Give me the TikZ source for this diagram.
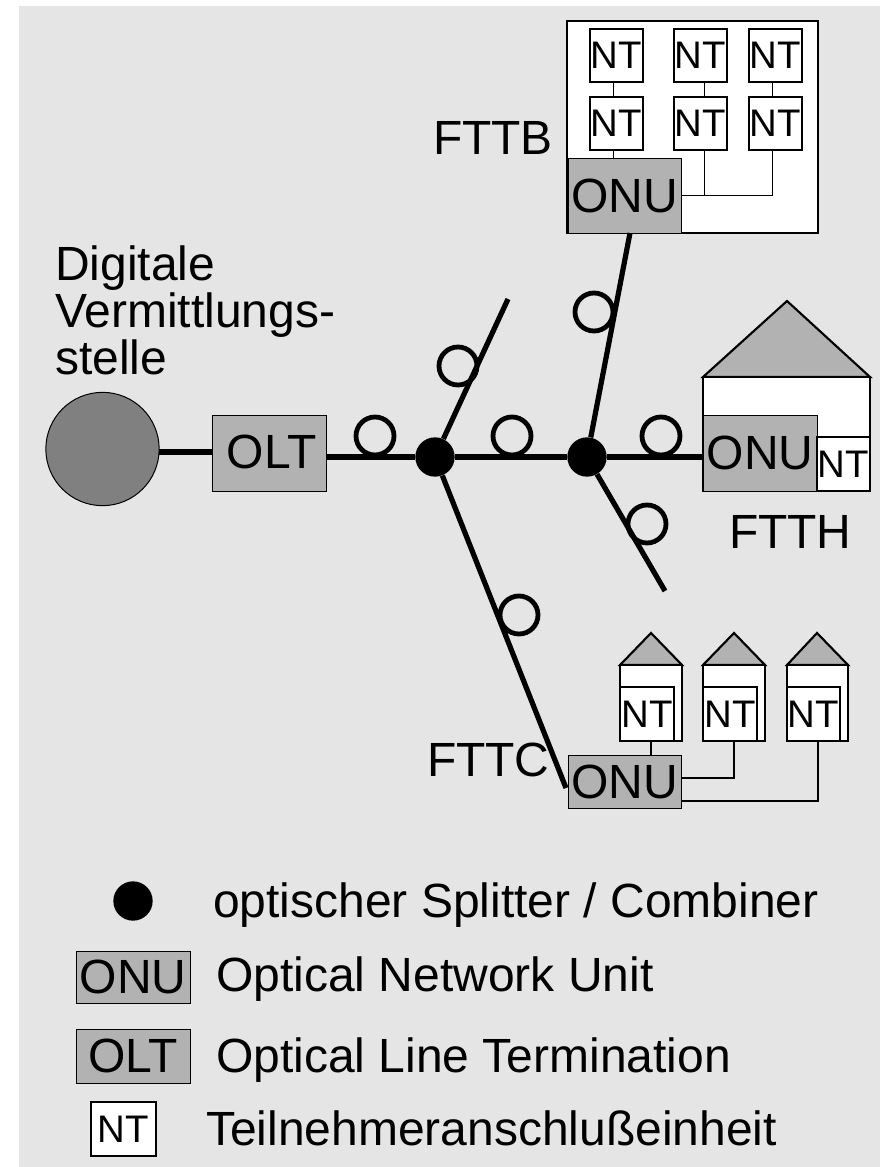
\documentclass[tikz,border=0pt]{standalone}
\usepackage{fontspec}
\setmainfont{Liberation Sans}
\definecolor{bgc}{HTML}{E5E5E5}
\definecolor{roofc}{HTML}{B2B2B2}
\definecolor{vstc}{HTML}{808080}
\newcommand{\bigfont}{\fontsize{36}{35.25}\selectfont}
\newcommand{\ntfont}{\fontsize{28.8}{28.8}\selectfont}
\tikzset{
  x=0.75pt,y=-0.75pt,
  boxbase/.style={rectangle,inner sep=0pt,outer sep=0pt,anchor=center},
  gbox/.style={boxbase,draw=black,line width=0.75pt,fill=roofc,font=\bigfont},
  ntbox/.style={boxbase,draw=black,line width=1.5pt,fill=white,font=\ntfont},
  ntthin/.style={ntbox,line width=1.6pt},
  lab/.style={inner sep=0pt,outer sep=0pt,anchor=base west,font=\bigfont},
  fiber/.style={line width=3.9pt,draw=black},
  loopc/.style={circle,draw=black,line width=3.6pt,inner sep=0pt,minimum size=28.5pt},
  split/.style={circle,fill=black,inner sep=0pt,minimum size=29.5pt},
  thinw/.style={draw=black,line width=0.75pt},
  midw/.style={draw=black,line width=1.7pt},
  wall/.style={draw=black,line width=1.6pt,fill=white},
  roof/.style={draw=black,line width=1.6pt,fill=roofc,line join=miter},
}
\begin{document}
\begin{tikzpicture}
\useasboundingbox (0,0) rectangle (880,1167);
\fill[bgc] (19,6) rectangle (880,1167);

% FTTB building
\node[boxbase,draw=black,line width=1.8pt,fill=white,minimum width=188.25pt,minimum height=159pt] (bldg) at (692.5,127) {};
\node[ntbox,minimum width=39.75pt,minimum height=39.75pt] (n1) at (616.5,55.5) {NT};
\node[ntbox,minimum width=39.75pt,minimum height=39.75pt] (n2) at (700,55.5) {NT};
\node[ntbox,minimum width=39.75pt,minimum height=39.75pt] (n3) at (775.5,55.5) {NT};
\node[ntbox,minimum width=39.75pt,minimum height=39.75pt] (n4) at (616.5,123.5) {NT};
\node[ntbox,minimum width=39.75pt,minimum height=39.75pt] (n5) at (700,123.5) {NT};
\node[ntbox,minimum width=39.75pt,minimum height=39.75pt] (n6) at (775.5,123.5) {NT};
\node[gbox,minimum width=84.75pt,minimum height=56.25pt] (onub) at (624.5,195.5) {ONU};
\coordinate (bt1) at (613,82);
\coordinate (bt2) at (704,82);
\coordinate (bt3) at (772,82);
\coordinate (bm1) at (613,97);
\coordinate (bm2) at (704,97);
\coordinate (bm3) at (772,97);
\coordinate (bl1) at (613,150);
\coordinate (bl2) at (704,150);
\coordinate (bl3) at (772,150);
\coordinate (bo1) at (613,158);
\coordinate (bj2) at (704,195);
\coordinate (bj3) at (772,195);
\draw[thinw] (bt1) -- (bm1);
\draw[thinw] (bt2) -- (bm2);
\draw[thinw] (bt3) -- (bm3);
\draw[thinw] (bl1) -- (bo1);
\draw[thinw] (bl2) -- (bj2);
\draw[thinw] (bl3) -- (bj3) -- (onub.east |- bj3);
\node[lab] (fttb) at (433,154) {FTTB};

% FTTH house
\coordinate (hl) at (703,377);
\coordinate (hr) at (870,377);
\coordinate (ha) at (787,301);
\draw[roof] (hl) -- (ha) -- (hr) -- cycle;
\node[boxbase,wall,minimum width=125.25pt,minimum height=85.5pt] (hbody) at (786.5,434) {};
\node[gbox,minimum width=85.5pt,minimum height=57pt] (onuh) at (760,453) {ONU};
\node[ntthin,minimum width=39.75pt,minimum height=40.5pt] (nth) at (843.5,464) {NT};
\node[lab] (ftth) at (729,548) {FTTH};

% FTTC houses
\foreach \n/\xa/\xb/\xc/\xn in {1/620/682/651/647,2/703/765/734/730,3/787/848/817/813.5}{
  \coordinate (rl\n) at (\xa,665);
  \coordinate (rr\n) at (\xb,665);
  \coordinate (ra\n) at (\xc,633);
  \draw[roof] (rl\n) -- (ra\n) -- (rr\n) -- cycle;
  \draw[wall] (rl\n) rectangle (\xb,741);
  \node[ntthin,minimum width=40pt,minimum height=40.5pt] (c\n) at (\xn,714) {NT};
}
\node[gbox,minimum width=84.75pt,minimum height=39.75pt] (onuc) at (624.5,781.5) {ONU};
\coordinate (cj1) at (651,741);
\coordinate (co1) at (651,755);
\coordinate (cb2) at (734,741);
\coordinate (cj2) at (734,778);
\coordinate (cb3) at (818,741);
\coordinate (cj3) at (818,801);
\draw[midw] (cj1) -- (co1);
\draw[midw] (cb2) -- (cj2) -- (onuc.east |- cj2);
\draw[midw] (cb3) -- (cj3) -- (onuc.east |- cj3);
\node[lab] (fttc) at (427,776) {FTTC};

% exchange and OLT
\node[circle,draw=black,line width=0.75pt,fill=vstc,inner sep=0pt,minimum size=85pt] (vst) at (102.5,449) {};
\node[gbox,minimum width=85.5pt,minimum height=57pt] (olt) at (269,453) {\hspace*{4pt}\raisebox{1.5pt}{OLT}};
\node[lab,align=left,anchor=north west] (vtxt) at (55,246) {Digitale\\Vermittlungs-\\stelle};
\coordinate (va) at (159,452);
\coordinate (vb) at (212,452);
\draw[fiber] (va) -- (vb);

% splitters and fibres
\node[split] (s1) at (435,457) {};
\node[split] (s2) at (587,457) {};
\coordinate (tipu) at (508,299);
\coordinate (tipd) at (665,591);
\coordinate (onubin) at (630,233);
\coordinate (onucin) at (566,788);
\draw[fiber] (olt.east |- s1) -- (s1) -- (s2) -- (onuh.west |- s2);
\draw[fiber] (s1) -- (tipu);
\draw[fiber] (s1) -- (onucin);
\draw[fiber] (s2) -- (onubin);
\draw[fiber] (s2) -- (tipd);
\node[loopc] (l1) at (375,436) {};
\node[loopc] (l2) at (512,436) {};
\node[loopc] (l3) at (661,436) {};
\node[loopc] (l4) at (458,366) {};
\node[loopc] (l5) at (594,312) {};
\node[loopc] (l6) at (647,524) {};
\node[loopc] (l7) at (519,615) {};

% legend
\node[split] (ls) at (133,901) {};
\node[gbox,minimum width=85.5pt,minimum height=39pt] (lonu) at (133,977) {ONU};
\node[gbox,minimum width=85.5pt,minimum height=40.5pt] (lolt) at (133,1056) {OLT};
\node[ntbox,minimum width=48.75pt,minimum height=40.5pt] (lnt) at (123.5,1129) {NT};
\node[lab] (t1) at (213,917) {optischer Splitter / Combiner};
\node[lab] (t2) at (216,991) {Optical Network Unit};
\node[lab] (t3) at (216,1072) {Optical Line Termination};
\node[lab] (t4) at (206,1145) {Teilnehmeranschlußeinheit};
\end{tikzpicture}
\end{document}
